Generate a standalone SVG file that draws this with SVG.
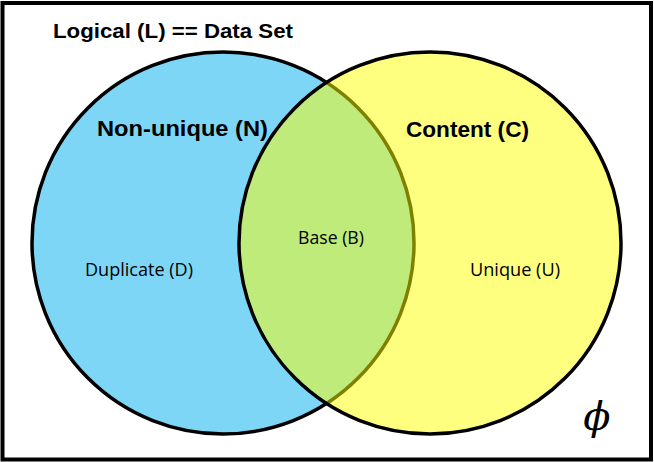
<svg xmlns="http://www.w3.org/2000/svg" width="654" height="462" viewBox="0 0 654 462">
<style>
.title{font-family:"Liberation Sans",Arial,sans-serif;font-weight:bold;fill:#000}
.lbl{font-family:"Open Sans","Liberation Sans",sans-serif;font-size:17.5px;fill:#000}
.set{stroke:#000;stroke-width:3.5}
</style>
<rect x="2.5" y="3" width="648.5" height="456.5" fill="#fff" stroke="#000" stroke-width="4"/>
<g id="title">
<text class="title" x="173" y="38" font-size="20.5" text-anchor="middle" textLength="240" lengthAdjust="spacingAndGlyphs">Logical (L) == Data Set</text>
</g>
<g id="nonunique">
<circle class="set" cx="223" cy="243" r="191" fill="#7ED6F7"/>
<text class="title" x="182.5" y="136" font-size="22" text-anchor="middle" textLength="171" lengthAdjust="spacingAndGlyphs">Non-unique (N)</text>
</g>
<g id="content">
<circle class="set" cx="430" cy="243" r="191" fill="#FFFF00" fill-opacity="0.5"/>
<text class="title" x="467.5" y="137" font-size="22" text-anchor="middle" textLength="123" lengthAdjust="spacingAndGlyphs">Content (C)</text>
</g>
<g id="duplicate">
<text class="lbl" x="139" y="276" text-anchor="middle" textLength="108" lengthAdjust="spacingAndGlyphs">Duplicate (D)</text>
</g>
<g id="base">
<text class="lbl" x="331" y="244" text-anchor="middle" textLength="66" lengthAdjust="spacingAndGlyphs">Base (B)</text>
</g>
<g id="unique">
<text class="lbl" x="515" y="276" text-anchor="middle" textLength="90" lengthAdjust="spacingAndGlyphs">Unique (U)</text>
</g>
<g id="empty">
<text x="597" y="430" font-family="'DejaVu Serif','Liberation Serif',serif" font-style="italic" font-size="40" text-anchor="middle">ϕ</text>
</g>
<g id="connectors"/>
</svg>
